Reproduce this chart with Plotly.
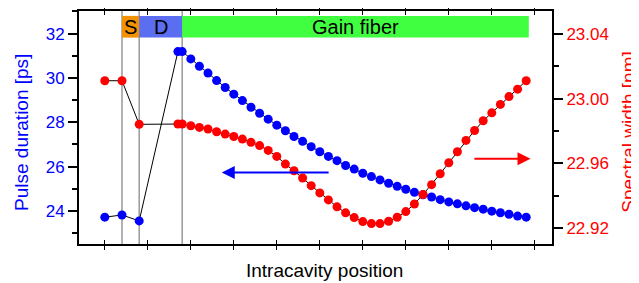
import plotly.graph_objects as go

# ---- data ----
positions = [0, 2, 4, 8.5, 9, 10, 11, 12, 13, 14, 15, 16, 17, 18, 19, 20, 21, 22, 23, 24,
             25, 26, 27, 28, 29, 30, 31, 32, 33, 34, 35, 36, 37, 38, 39, 40, 41, 42, 43,
             44, 45, 46, 47, 48, 49]
pulse_duration = [23.72, 23.82, 23.55, 31.19, 31.19, 30.86, 30.53, 30.22, 29.88, 29.57,
                  29.27, 28.98, 28.68, 28.41, 28.14, 27.87, 27.62, 27.36, 27.14, 26.90,
                  26.67, 26.46, 26.27, 26.05, 25.89, 25.70, 25.55, 25.40, 25.25, 25.11,
                  24.98, 24.84, 24.73, 24.63, 24.51, 24.41, 24.32, 24.23, 24.15, 24.08,
                  23.99, 23.92, 23.85, 23.77, 23.72]
spectral_width = [23.0110, 23.0110, 22.9841, 22.9843, 22.9843, 22.9832, 22.9822, 22.9812,
                  22.9795, 22.9781, 22.9766, 22.9750, 22.9730, 22.9710, 22.9680, 22.9643,
                  22.9596, 22.9555, 22.9510, 22.9463, 22.9418, 22.9375, 22.9332, 22.9295,
                  22.9266, 22.9241, 22.9229, 22.9229, 22.9243, 22.9268, 22.9303, 22.9350,
                  22.9408, 22.9469, 22.9536, 22.9604, 22.9672, 22.9742, 22.9803, 22.9863,
                  22.9912, 22.9964, 23.0012, 23.0058, 23.0110]
section_names = ["S", "D", "Gain fiber"]
section_starts = [2, 4, 9]
section_ends = [4, 9, 49.3]
section_colors = ["#F39200", "#5B6EF2", "#40FF40"]
boundaries = [2, 4, 9]
x_ticks = [0, 5, 10, 15, 20, 25, 30, 35, 40, 45, 50]
x_title = "Intracavity position"
y_title = "Pulse duration [ps]"
y2_title = "Spectral width [nm]"

FONT = "Liberation Sans, Arial, sans-serif"
BLUE = "#0000FF"
RED = "#FF0000"

fig = go.Figure()

fig.add_trace(go.Scatter(
    x=positions, y=pulse_duration, mode="lines+markers",
    line=dict(color="black", width=1),
    marker=dict(color=BLUE, size=9),
    yaxis="y", showlegend=False))
fig.add_trace(go.Scatter(
    x=positions, y=spectral_width, mode="lines+markers",
    line=dict(color="black", width=1),
    marker=dict(color=RED, size=9),
    yaxis="y2", showlegend=False))

shapes = []
for b in boundaries:
    shapes.append(dict(type="line", xref="x", yref="paper", x0=b, x1=b, y0=0, y1=1,
                       line=dict(color="#999999", width=1.5), layer="below"))
for s0, s1, c in zip(section_starts, section_ends, section_colors):
    shapes.append(dict(type="rect", xref="x", yref="y", x0=s0, x1=s1, y0=31.82, y1=32.8,
                       fillcolor=c, line=dict(width=0), layer="below"))

annotations = []
for name, s0, s1 in zip(section_names, section_starts, section_ends):
    annotations.append(dict(x=(s0 + s1) / 2, y=32.31, xref="x", yref="y", text=name,
                            showarrow=False, font=dict(family=FONT, size=20, color="black")))
annotations.append(dict(x=13.6, y=25.74, ax=26.2, ay=25.74, xref="x", yref="y",
                        axref="x", ayref="y", showarrow=True, arrowhead=2, arrowsize=1.3,
                        arrowwidth=2, arrowcolor=BLUE, text=""))
annotations.append(dict(x=49.5, y=26.36, ax=42.8, ay=26.36, xref="x", yref="y",
                        axref="x", ayref="y", showarrow=True, arrowhead=2, arrowsize=1.3,
                        arrowwidth=2, arrowcolor=RED, text=""))
# axis titles
annotations.append(dict(x=0.52, y=-0.115, xref="paper", yref="paper", text=x_title,
                        showarrow=False, xanchor="center", yanchor="middle",
                        font=dict(family=FONT, size=19, color="black")))
annotations.append(dict(x=-0.123, y=0.48, xref="paper", yref="paper", text=y_title,
                        showarrow=False, textangle=-90, xanchor="center", yanchor="middle",
                        font=dict(family=FONT, size=19, color=BLUE)))
annotations.append(dict(x=1.162, y=0.48, xref="paper", yref="paper", text=y2_title,
                        showarrow=False, textangle=-90, xanchor="center", yanchor="middle",
                        font=dict(family=FONT, size=19, color=RED)))

# the page body adds an 8px offset; the figure is sized so the plot lands where it should
fig.update_layout(
    width=631, height=275,
    margin=dict(l=71, r=87, t=3, b=39),
    plot_bgcolor="white", paper_bgcolor="white",
    font=dict(family=FONT),
    shapes=shapes, annotations=annotations,
    xaxis=dict(range=[-3, 52], tickvals=x_ticks, showticklabels=False,
               ticks="inside", ticklen=4, tickcolor="black",
               showline=True, linecolor="black", linewidth=1.5, mirror="allticks",
               showgrid=False, zeroline=False, automargin=False),
    yaxis=dict(range=[22.51, 33.02], tickvals=[24, 26, 28, 30, 32],
               ticks="outside", ticklen=9, tickcolor="black", tickwidth=1.5,
               minor=dict(tickvals=[23, 25, 27, 29, 31, 33], ticks="outside", ticklen=5,
                          tickcolor="black"),
               tickfont=dict(family=FONT, size=17, color=BLUE),
               showline=True, linecolor="black", linewidth=2,
               showgrid=False, zeroline=False, automargin=False),
    yaxis2=dict(range=[22.9103, 23.054], overlaying="y", side="right",
                tickvals=[22.92, 22.96, 23.00, 23.04], tickformat=".2f",
                ticks="outside", ticklen=9, tickcolor="black", tickwidth=1.5,
                minor=dict(tickvals=[22.94, 22.98, 23.02], ticks="outside", ticklen=5,
                           tickcolor="black"),
                tickfont=dict(family=FONT, size=17, color=RED),
                showline=True, linecolor="black", linewidth=2,
                showgrid=False, zeroline=False, automargin=False),
)

fig.write_html("out.html")
